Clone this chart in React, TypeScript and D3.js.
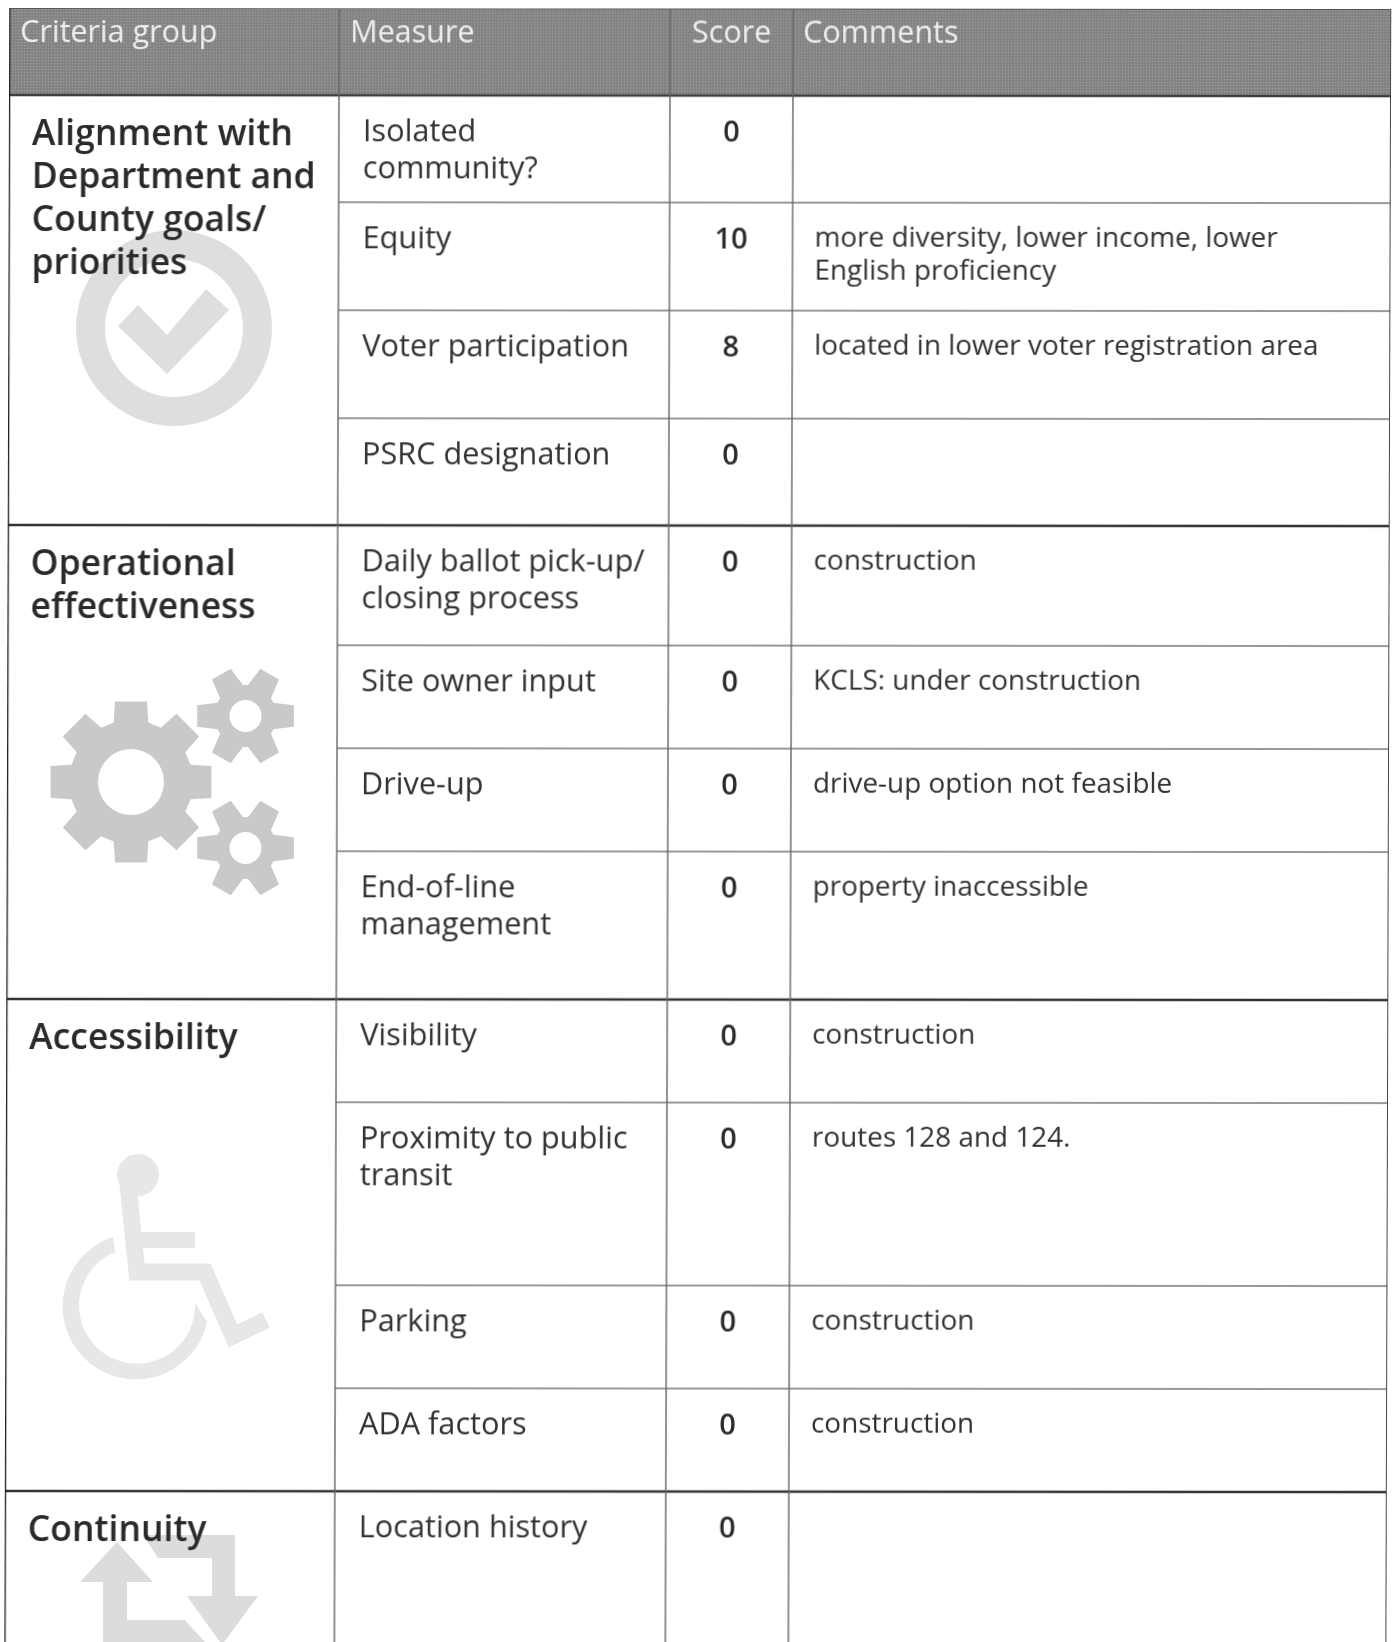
import React from "react";
import * as d3 from "d3";

// ---- data ----
const headers = ["Criteria group", "Measure", "Score", "Comments"];
const groupTitles = [
  ["Alignment with", "Department and", "County goals/", "priorities"],
  ["Operational", "effectiveness"],
  ["Accessibility"],
  ["Continuity"],
];
const groupSizes = [4, 4, 4, 1];
const measures = [
  ["Isolated", "community?"],
  ["Equity"],
  ["Voter participation"],
  ["PSRC designation"],
  ["Daily ballot pick-up/", "closing process"],
  ["Site owner input"],
  ["Drive-up"],
  ["End-of-line", "management"],
  ["Visibility"],
  ["Proximity to public", "transit"],
  ["Parking"],
  ["ADA factors"],
  ["Location history"],
];
const scores = [0, 10, 8, 0, 0, 0, 0, 0, 0, 0, 0, 0, 0];
const comments = [
  [],
  ["more diversity, lower income, lower", "English proficiency"],
  ["located in lower voter registration area"],
  [],
  ["construction"],
  ["KCLS: under construction"],
  ["drive-up option not feasible"],
  ["property inaccessible"],
  ["construction"],
  ["routes 128 and 124."],
  ["construction"],
  ["construction"],
  [],
];

// ---- layout ----
const W = 1398, H = 1642;
const colEdges = [9, 339, 670, 793, 1391];
const rowEdges = [95, 202, 310, 418, 525, 645, 748, 851, 999, 1102, 1285, 1388, 1491, 1700];
const headerTop = 8;
const FONT = "'Open Sans', 'Noto Sans', sans-serif";
const rowY = d3.scaleOrdinal<number, number>(d3.range(rowEdges.length), rowEdges);
const colX = d3.scaleOrdinal<number, number>(d3.range(colEdges.length), colEdges);

function gearPath(cx: number, cy: number, rOut: number, rRoot: number, rHole: number, teeth: number, phase: number, topK: number, baseK: number) {
  const p = d3.path();
  const step = (2 * Math.PI) / teeth;
  const topHalf = step * topK, baseHalf = step * baseK;
  d3.range(teeth).forEach((i) => {
    const a = phase + i * step;
    const pt = (r: number, t: number): [number, number] => [cx + r * Math.cos(t), cy + r * Math.sin(t)];
    const [x0, y0] = pt(rRoot, a - baseHalf);
    if (i === 0) p.moveTo(x0, y0);
    else p.lineTo(x0, y0);
    p.lineTo(...pt(rOut, a - topHalf));
    p.lineTo(...pt(rOut, a + topHalf));
    p.lineTo(...pt(rRoot, a + baseHalf));
  });
  p.closePath();
  p.moveTo(cx + rHole, cy);
  p.arc(cx, cy, rHole, 0, 2 * Math.PI, true);
  p.closePath();
  return p.toString();
}

function CheckIcon() {
  const ring = d3.arc()({ innerRadius: 69, outerRadius: 98, startAngle: 0, endAngle: 2 * Math.PI }) as string;
  const tick = d3.line()([[118, 326], [167, 374], [229, 310], [206, 289], [167, 335], [138, 305]]) + "Z";
  return (
    <g fill="#dedede">
      <path d={ring} transform="translate(174,328)" />
      <path d={tick} />
    </g>
  );
}

function GearsIcon() {
  const d = [
    gearPath(131, 782, 82, 62, 33, 8, 0, 0.25, 0.36),
    gearPath(245.5, 716, 49.5, 31, 16, 6, 0, 0.21, 0.42),
    gearPath(245.5, 848, 49.5, 31, 16, 6, 0, 0.21, 0.42),
  ];
  return <g fill="#c9c9c9">{d.map((s, i) => <path key={i} d={s} fillRule="evenodd" />)}</g>;
}

function WheelchairIcon() {
  const wheel = "M113,1237 A73,73 0 1 0 207,1322 L195,1303 A58,58 0 1 1 115,1252 Z";
  const frame = d3.line()([[128, 1185], [137, 1272], [205, 1272], [233, 1336], [266, 1320]]) as string;
  const arm = d3.line()([[135, 1240], [195, 1240]]) as string;
  const c = "#e7e7e7";
  return (
    <g>
      <circle cx={138} cy={1175} r={21} fill={c} />
      <path d={frame} fill="none" stroke={c} strokeWidth={17} />
      <path d={arm} fill="none" stroke={c} strokeWidth={16} />
      <path d={wheel} fill={c} />
    </g>
  );
}

function ArrowsIcon() {
  const up = d3.line()([[117, 1542], [153, 1582], [127, 1582], [127, 1620], [185, 1620], [212, 1650], [103, 1650], [103, 1582], [80, 1582]]) + "Z";
  const down = d3.line()([[143, 1535], [235, 1535], [235, 1596], [258, 1596], [222, 1645], [187, 1596], [212, 1596], [212, 1558], [158, 1558]]) + "Z";
  return (
    <g fill="#dcdcdc">
      <path d={up} />
      <path d={down} />
    </g>
  );
}

export default function App() {
  const n = measures.length;
  const groupStarts = groupSizes.map((_, i) => d3.sum(groupSizes.slice(0, i)));
  const groupEnds = new Set(groupStarts.slice(1));
  const right = colX(4), left = colX(0);
  const ink = "#303030";
  return (
    <svg width={W} height={H} viewBox={`0 0 ${W} ${H}`} style={{ position: "absolute", left: 0, top: 0, display: "block", background: "#fff" }} fontFamily={FONT}>
      <defs>
        <pattern id="half" width={3} height={3} patternUnits="userSpaceOnUse">
          <rect width={3} height={3} fill="#868686" />
          <rect width={1} height={1} fill="#a2a2a2" />
          <rect x={1.5} y={1.5} width={1} height={1} fill="#6e6e6e" />
        </pattern>
        <filter id="soft" x="0" y="0" width="100%" height="100%">
          <feGaussianBlur stdDeviation={0.45} />
        </filter>
      </defs>
      <g filter="url(#soft)">
        <CheckIcon />
        <GearsIcon />
        <WheelchairIcon />
        <ArrowsIcon />
      </g>
      <g transform={`matrix(1 0.0008 -0.003 1 ${0.003 * 96} ${-0.0008 * left})`} filter="url(#soft)">
        <rect x={left} y={headerTop} width={right - left} height={rowY(0) - headerTop} fill="url(#half)" />

        {headers.map((h, i) => (
          <text key={h} x={i === 2 ? (colX(2) + colX(3)) / 2 : colX(i) + (i === 3 ? 10 : 11)} y={41.5} fontSize={30.5} fill="#eeeeee" textAnchor={i === 2 ? "middle" : "start"}>{h}</text>
        ))}

        {measures.map((_, i) => {
          const heavy = groupEnds.has(i + 1) || i === n - 1;
          if (i === n - 1) return null;
          return heavy ? null : (
            <line key={i} x1={colX(1)} x2={right} y1={rowY(i + 1)} y2={rowY(i + 1)} stroke="#777" strokeWidth={1.3} />
          );
        })}
        {groupStarts.slice(1).map((s) => (
          <line key={s} x1={left} x2={right} y1={rowY(s)} y2={rowY(s)} stroke="#333" strokeWidth={2.4} />
        ))}
        <line x1={left} x2={right} y1={rowY(0)} y2={rowY(0)} stroke="#3c3c3c" strokeWidth={2.4} />
        <line x1={left} x2={right} y1={headerTop} y2={headerTop} stroke="#555" strokeWidth={2} />
        {[1, 2, 3].map((c) => (
          <line key={c} x1={colX(c)} x2={colX(c)} y1={headerTop} y2={H + 20} stroke="#666" strokeWidth={1.4} />
        ))}
        <line x1={left} x2={left} y1={headerTop} y2={H + 20} stroke="#222" strokeWidth={2.6} />
        <line x1={right} x2={right} y1={headerTop} y2={H + 20} stroke="#444" strokeWidth={2} />

        {groupTitles.map((lines, g) =>
          lines.map((t, l) => (
            <text key={t} x={colX(0) + 23} y={rowY(groupStarts[g]) + 50.2 + l * 43} fontSize={35.5} fontWeight={600} fill="#2b2b2b">{t}</text>
          ))
        )}
        {measures.map((lines, i) =>
          lines.map((t, l) => (
            <text key={t} x={colX(1) + 24} y={rowY(i) + 45.8 + l * 37} fontSize={30.7} fill={ink}>{t}</text>
          ))
        )}
        {scores.map((s, i) => (
          <text key={i} x={(colX(2) + colX(3)) / 2} y={rowY(i) + 45.5} fontSize={29} fontWeight={600} fill="#2b2b2b" textAnchor="middle">{s}</text>
        ))}
        {comments.map((lines, i) =>
          lines.map((t, l) => (
            <text key={t + i} x={colX(3) + 22} y={rowY(i) + 44 + l * 33} fontSize={27.9} fill={ink}>{t}</text>
          ))
        )}
      </g>
    </svg>
  );
}
